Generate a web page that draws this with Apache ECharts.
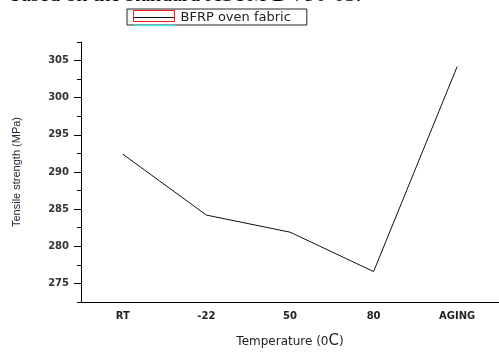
<!DOCTYPE html>
<html>
<head>
<meta charset="utf-8">
<script src="https://cdn.jsdelivr.net/npm/echarts@6/dist/echarts.min.js"></script>
<style>
  html, body { margin: 0; padding: 0; background: #fff; }
  #chart { width: 499px; height: 354px; }
</style>
</head>
<body>
<div id="chart"></div>
<script>
var categories = ['RT', '-22', '50', '80', 'AGING']
var strength = [292.4, 284.2, 281.9, 276.6, 304.2]
var yLabelValues = [275, 280, 285, 290, 295, 300, 305]

var labelFont = 'DejaVu Sans'

var chart = echarts.init(document.getElementById('chart'))

var option = {
  animation: false,
  backgroundColor: '#fff',
  grid: {
    left: 81,
    top: 42,
    bottom: 47,
    right: -5
  },
  legend: {
    left: 127,
    top: 9,
    padding: [2, 16, 1, 6],
    itemWidth: 41,
    itemHeight: 12,
    itemGap: 0,
    backgroundColor: '#fff',
    borderColor: '#222',
    borderWidth: 1,
    itemStyle: { opacity: 0 },
    lineStyle: { color: '#111', width: 1 },
    textStyle: {
      fontFamily: labelFont,
      fontSize: 13,
      color: '#222',
      padding: [0, 0, 0, 1]
    },
    data: ['BFRP oven fabric']
  },
  graphic: [
    {
      // cut-off caption text from the page above
      type: 'text',
      x: 10,
      y: 6,
      style: {
        text: 'based on the standard ASTM D 790-03.',
        fontFamily: 'Liberation Serif',
        fontSize: 22,
        fill: '#000',
        verticalAlign: 'bottom'
      }
    },
    {
      // red frame of the legend symbol
      type: 'rect',
      shape: { x: 133.5, y: 10.5, width: 41, height: 11 },
      style: { fill: 'none', stroke: '#ee1c1c', lineWidth: 1 },
      z: 100
    },
    {
      type: 'line',
      shape: { x1: 134, y1: 25.5, x2: 175, y2: 25.5 },
      style: { stroke: '#44e8e8', lineWidth: 1.5 },
      z: 100
    }
  ],
  xAxis: [
    {
      type: 'category',
      data: categories,
      boundaryGap: true,
      name: '{t|Temperature (0}{c|C}{t|)}',
      nameLocation: 'middle',
      nameGap: 32,
      nameTextStyle: {
        rich: {
          t: { fontFamily: labelFont, fontSize: 12, color: '#222' },
          c: { fontFamily: labelFont, fontSize: 15, color: '#222' }
        }
      },
      axisLine: { lineStyle: { color: '#000', width: 1 } },
      axisTick: {
        alignWithLabel: true,
        length: 5,
        lineStyle: { color: '#000' }
      },
      axisLabel: {
        fontFamily: labelFont,
        fontSize: 10,
        fontWeight: 'bold',
        color: '#222',
        margin: 9
      },
      splitLine: { show: false }
    },
    {
      type: 'category',
      data: categories,
      boundaryGap: true,
      position: 'bottom',
      axisLine: { show: false },
      axisTick: {
        alignWithLabel: false,
        length: 3,
        lineStyle: { color: '#000' }
      },
      axisLabel: { show: false },
      splitLine: { show: false }
    }
  ],
  yAxis: [
    {
      type: 'value',
      min: 272.5,
      max: 307.5,
      interval: 2.5,
      name: 'Tensile strength (MPa)',
      nameLocation: 'middle',
      nameGap: 59,
      nameTextStyle: {
        fontFamily: 'Liberation Sans',
        fontSize: 11,
        color: '#2a1a35'
      },
      axisLine: { show: true, lineStyle: { color: '#000', width: 1 } },
      axisTick: {
        show: true,
        length: 4,
        lineStyle: { color: '#000' }
      },
      axisLabel: {
        customValues: yLabelValues,
        fontFamily: labelFont,
        fontSize: 10,
        fontWeight: 'bold',
        color: '#333',
        margin: 12
      },
      splitLine: { show: false }
    },
    {
      type: 'value',
      min: 272.5,
      max: 307.5,
      position: 'left',
      axisLine: { show: false },
      axisTick: {
        show: true,
        length: 7,
        customValues: yLabelValues,
        lineStyle: { color: '#000' }
      },
      axisLabel: { show: false },
      splitLine: { show: false }
    }
  ],
  series: [
    {
      name: 'BFRP oven fabric',
      type: 'line',
      data: strength,
      xAxisIndex: 0,
      yAxisIndex: 0,
      symbol: 'none',
      lineStyle: { color: '#111', width: 1 },
      itemStyle: { color: '#111' }
    }
  ]
}

chart.setOption(option)
</script>
</body>
</html>
